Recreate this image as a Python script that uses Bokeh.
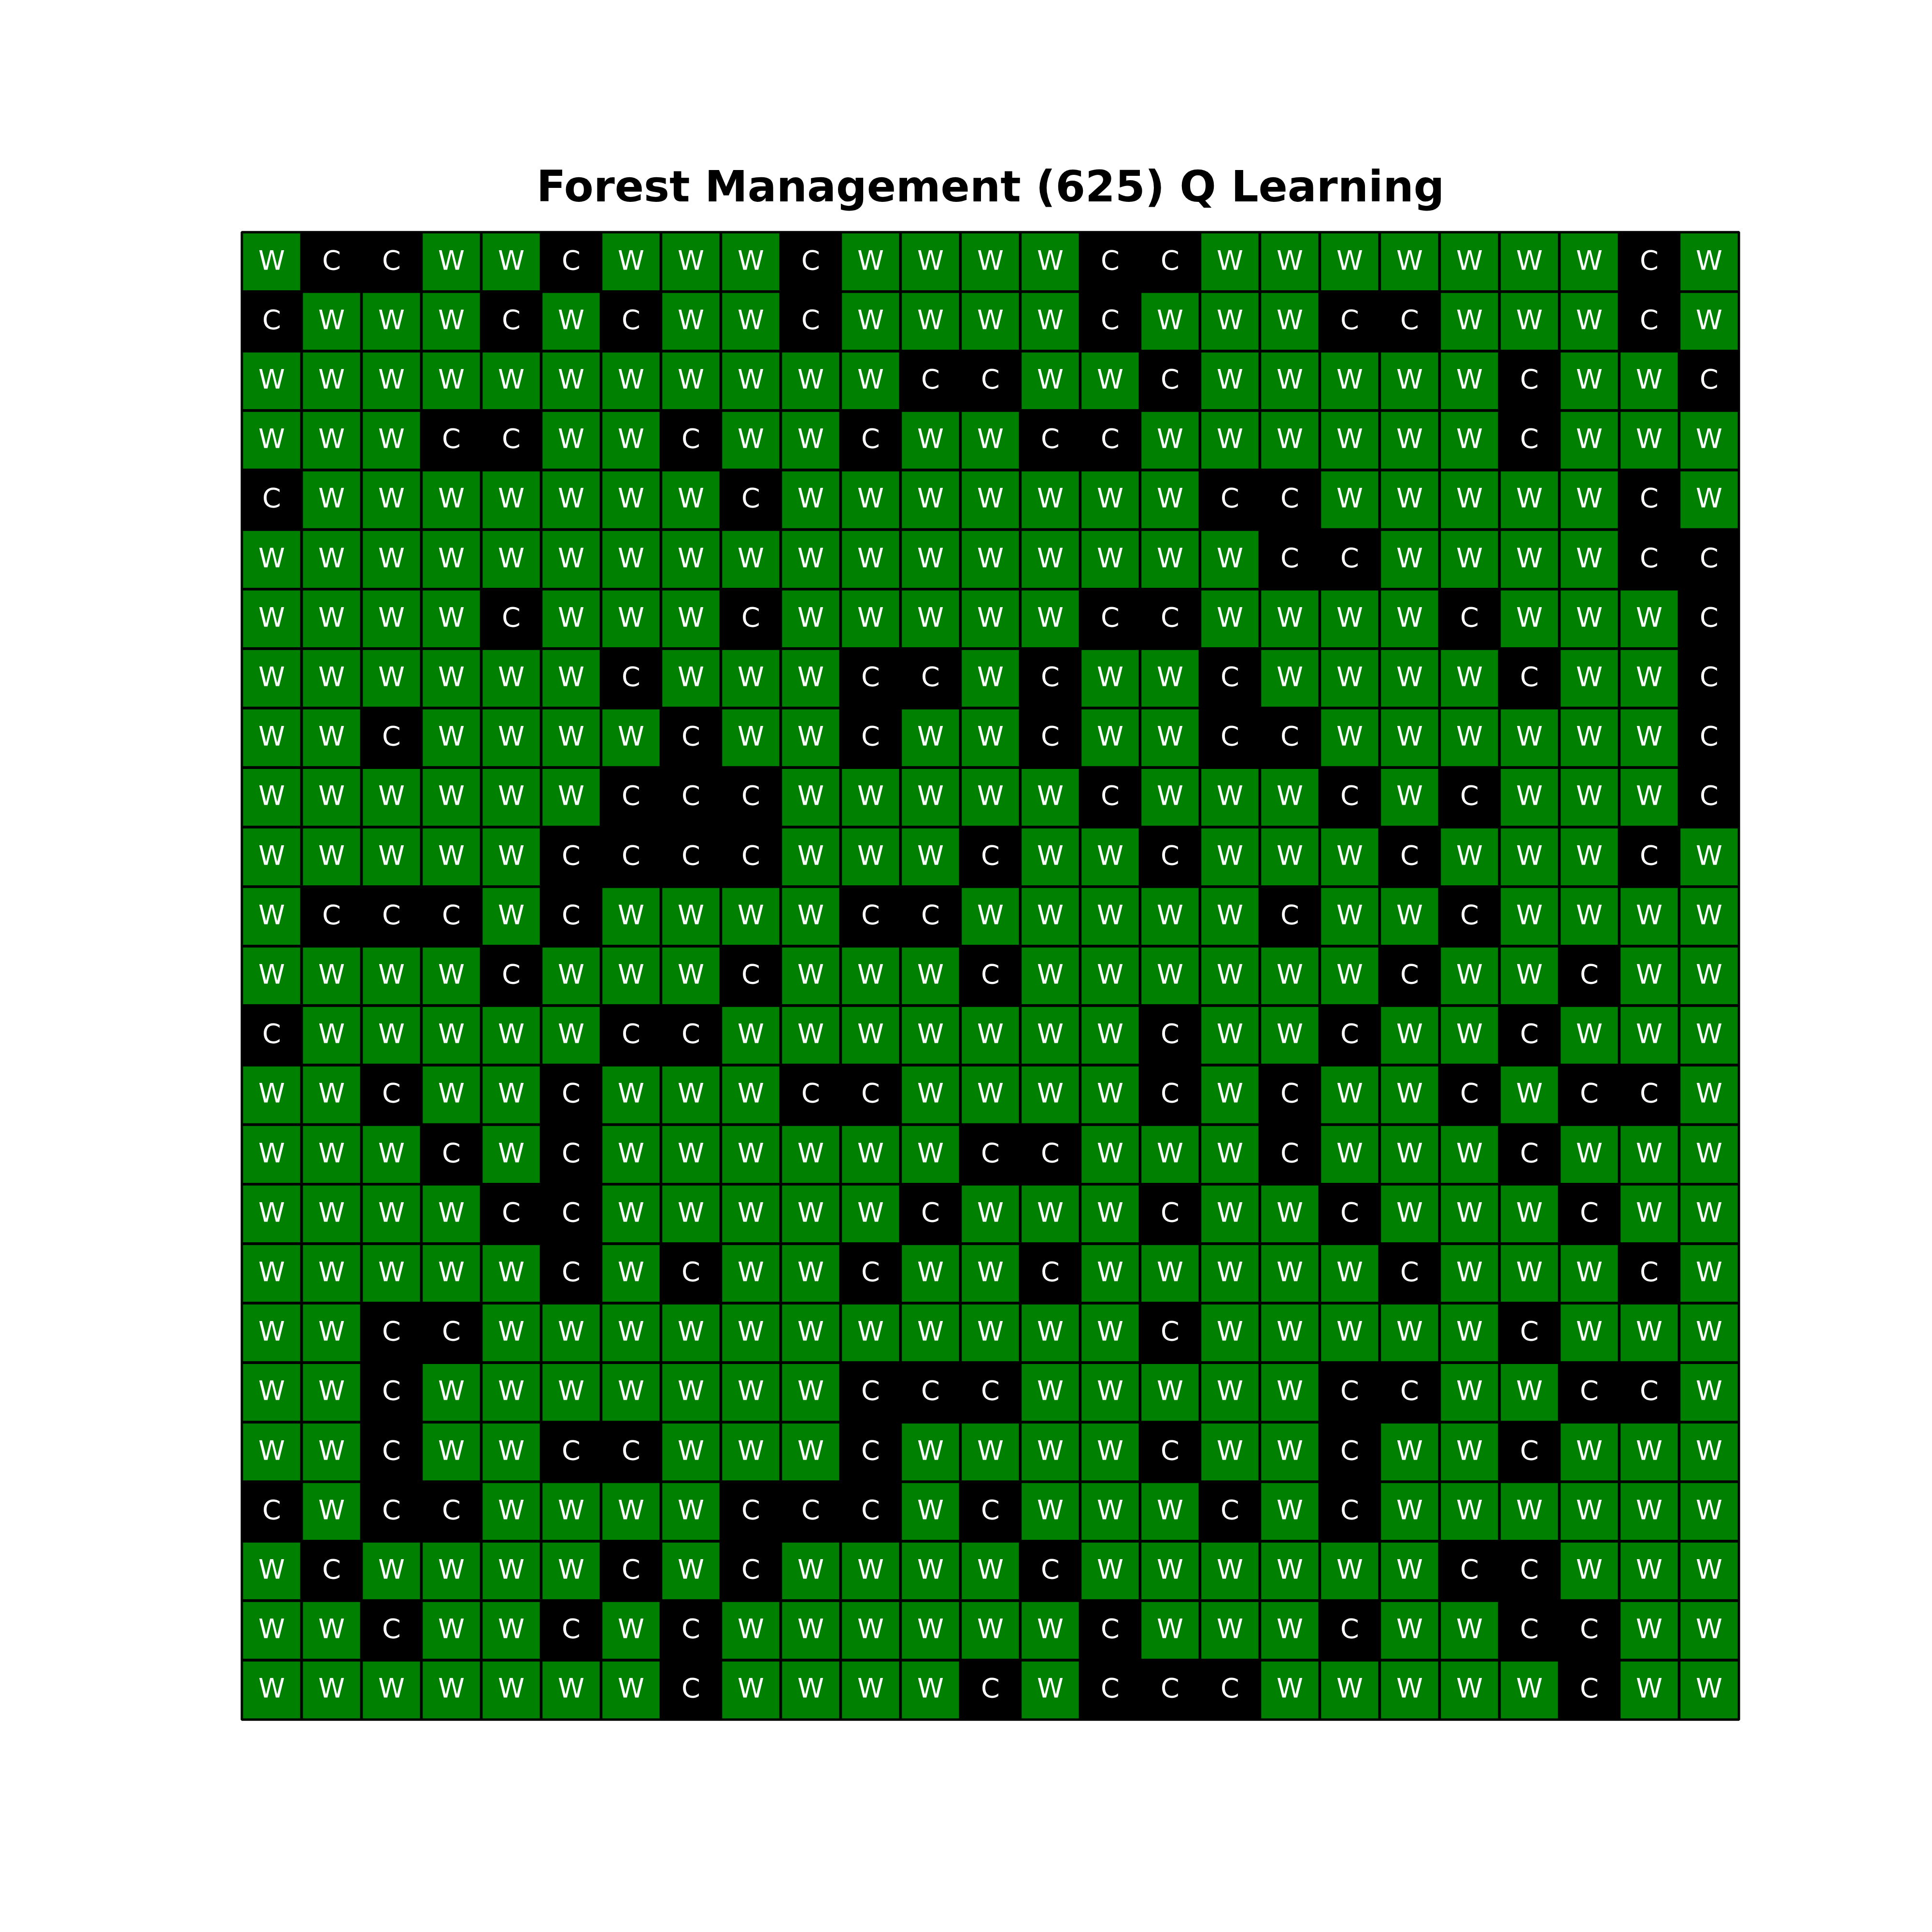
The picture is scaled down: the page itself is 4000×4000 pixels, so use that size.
from bokeh.plotting import figure
from bokeh.models import Range1d, ColumnDataSource
from bokeh.core.properties import value
from bokeh.embed import file_html
from bokeh.resources import INLINE

# Policy grid (25 x 25): W = Wait, C = Cut
policy_rows = [
    "WCCWWCWWWCWWWWCCWWWWWWWCW",
    "CWWWCWCWWCWWWWCWWWCCWWWCW",
    "WWWWWWWWWWWCCWWCWWWWWCWWC",
    "WWWCCWWCWWCWWCCWWWWWWCWWW",
    "CWWWWWWWCWWWWWWWCCWWWWWCW",
    "WWWWWWWWWWWWWWWWWCCWWWWCC",
    "WWWWCWWWCWWWWWCCWWWWCWWWC",
    "WWWWWWCWWWCCWCWWCWWWWCWWC",
    "WWCWWWWCWWCWWCWWCCWWWWWWC",
    "WWWWWWCCCWWWWWCWWWCWCWWWC",
    "WWWWWCCCCWWWCWWCWWWCWWWCW",
    "WCCCWCWWWWCCWWWWWCWWCWWWW",
    "WWWWCWWWCWWWCWWWWWWCWWCWW",
    "CWWWWWCCWWWWWWWCWWCWWCWWW",
    "WWCWWCWWWCCWWWWCWCWWCWCCW",
    "WWWCWCWWWWWWCCWWWCWWWCWWW",
    "WWWWCCWWWWWCWWWCWWCWWWCWW",
    "WWWWWCWCWWCWWCWWWWWCWWWCW",
    "WWCCWWWWWWWWWWWCWWWWWCWWW",
    "WWCWWWWWWWCCCWWWWWCCWWCCW",
    "WWCWWCCWWWCWWWWCWWCWWCWWW",
    "CWCCWWWWCCCWCWWWCWCWWWWWW",
    "WCWWWWCWCWWWWCWWWWWWCCWWW",
    "WWCWWCWCWWWWWWCWWWCWWCCWW",
    "WWWWWWWCWWWWCWCCCWWWWWCWW",
]
action_colors = {"W": "#008000", "C": "#000000"}
title_text = "Forest Management (625) Q Learning"

n_rows = len(policy_rows)
n_cols = len(policy_rows[0])

xs, ys, labels, fills = [], [], [], []
for r, row in enumerate(policy_rows):
    for c, a in enumerate(row):
        xs.append(c + 0.5)
        ys.append(r + 0.5)
        labels.append(a)
        fills.append(action_colors[a])

src = ColumnDataSource(dict(x=xs, y=ys, label=labels, fill=fills))

p = figure(
    width=4000, height=4000,
    x_range=Range1d(0, n_cols), y_range=Range1d(n_rows, 0),
    x_axis_location=None, y_axis_location=None,
    toolbar_location=None, output_backend="svg",
    min_border_left=500, min_border_right=400,
    min_border_top=480, min_border_bottom=440,
)
p.grid.visible = False
p.background_fill_color = "white"
p.border_fill_color = "white"
p.outline_line_color = "black"
p.outline_line_width = 4.4

p.title.text = title_text
p.title.align = "center"
p.title.text_font = "DejaVu Sans"
p.title.text_font_style = "bold"
p.title.text_font_size = "88.9px"
p.title.text_color = "black"
p.title.standoff = 85

p.rect(x="x", y="y", width=1, height=1, source=src,
       fill_color="fill", line_color="black", line_width=5.5)
p.text(x="x", y="y", text="label", source=src,
       text_align="center", text_baseline="middle",
       text_color="white", text_font=value("DejaVu Sans"),
       text_font_size="55.6px", y_offset=-4)

open("out.html", "w").write(file_html(p, INLINE))
